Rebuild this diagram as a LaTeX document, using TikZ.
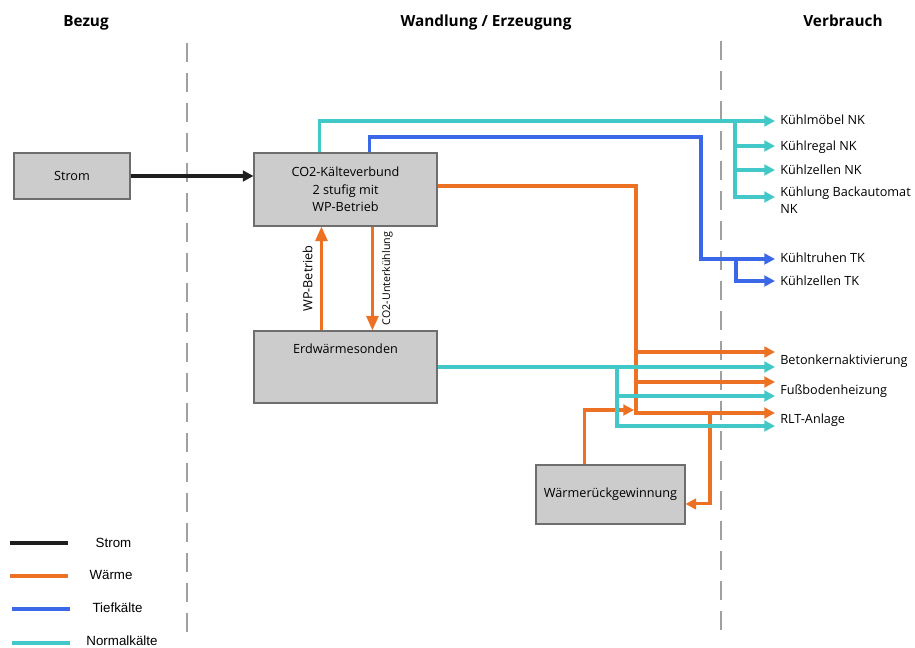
\documentclass[tikz,border=0pt]{standalone}
\usepackage{fontspec}
\setmainfont{Open Sans}
\newfontfamily\legfont{Liberation Sans}
\usetikzlibrary{arrows.meta,calc}
\definecolor{worange}{RGB}{237,113,35}
\definecolor{wblue}{RGB}{59,104,232}
\definecolor{wcyan}{RGB}{66,200,200}
\definecolor{wblack}{RGB}{30,30,30}
\definecolor{boxfill}{RGB}{204,204,204}
\definecolor{boxline}{RGB}{110,110,110}
\definecolor{dashgray}{RGB}{160,160,160}
\tikzset{
  flow/.style={line width=2.3pt},
  strom/.style={flow, draw=wblack},
  waerme/.style={flow, draw=worange},
  tief/.style={flow, draw=wblue},
  normal/.style={flow, draw=wcyan},
  arr/.style={-{Triangle[length=8pt,width=8pt]}},
  bigarr/.style={-{Triangle[length=11pt,width=9pt]}},
  box/.style={draw=boxline, fill=boxfill, line width=0.8pt, inner sep=0pt, align=center},
  lbl/.style={anchor=base west, inner sep=0pt},
  head/.style={anchor=base, inner sep=0pt, font=\bfseries\fontsize{11.5}{13}\selectfont},
  sep/.style={draw=dashgray, line width=2.2pt, dash pattern=on 14pt off 8.5pt},
  leg/.style={inner sep=0pt, font=\legfont\fontsize{10}{12}\selectfont},
  legline/.style={line width=2.4pt},
  rot/.style={rotate=90}
}
\begin{document}
\begin{tikzpicture}[x=0.75pt,y=-0.75pt, font=\fontsize{9.5}{13}\selectfont]
\fill[white] (0,0) rectangle (915,648);
\useasboundingbox (0,0) rectangle (915,648);

% headers
\node[head] (hBezug) at (86,27) {Bezug};
\node[head] (hWand) at (486,27) {Wandlung / Erzeugung};
\node[head] (hVerb) at (843,27) {Verbrauch};

% separators
\coordinate (s1a) at (187,43); \coordinate (s1b) at (187,640);
\coordinate (s2a) at (721,41); \coordinate (s2b) at (721,640);
\draw[sep] (s1a) -- (s1b);
\draw[sep] (s2a) -- (s2b);

% boxes
\node[box, minimum width=87pt, minimum height=34.5pt] (strom) at (72,176) {Strom};
\node[box, minimum width=137.25pt, minimum height=54.75pt] (co2) at (345.5,189.5) {CO2-Kälteverbund\\2 stufig mit\\WP-Betrieb};
\node[box, minimum width=137.25pt, minimum height=54pt,
      label={[anchor=center, yshift=-13.5pt, inner sep=0pt]north:Erdwärmesonden}] (erd) at (345.5,367) {};
\node[box, minimum width=111.75pt, minimum height=44.25pt] (wrg) at (610.5,494.5) {Wärmerückgewinnung};

% consumer labels
\node[lbl] (kmNK) at (780,125) {Kühlmöbel NK};
\node[lbl] (krNK) at (780,151) {Kühlregal NK};
\node[lbl] (kzNK) at (780,175) {Kühlzellen NK};
\node[anchor=west, inner sep=0pt, align=left] (kbNK) at (780,200) {Kühlung Backautomat\\NK};
\node[lbl] (ktTK) at (780,263) {Kühltruhen TK};
\node[lbl] (kzTK) at (780,286) {Kühlzellen TK};
\node[lbl] (beton) at (780,365) {Betonkernaktivierung};
\node[lbl] (fuss) at (780,395) {Fußbodenheizung};
\node[lbl] (rlt) at (780,424) {RLT-Anlage};

% arrow tips
\coordinate (tNK1) at (775,121);
\coordinate (tNK2) at (775,146);
\coordinate (tNK3) at (775,170);
\coordinate (tNK4) at (775,197);
\coordinate (tTK1) at (775,259);
\coordinate (tTK2) at (775,281);
\coordinate (tW1) at (775,352);
\coordinate (tW2) at (775,382);
\coordinate (tW3) at (775,413);
\coordinate (tN1) at (775,367);
\coordinate (tN2) at (775,396);
\coordinate (tN3) at (775,426);

% bends / taps
\coordinate (nkA) at (735,121);
\coordinate (tkB) at (701,137);
\coordinate (tkA) at (736,259);
\coordinate (wB) at (636,413);
\coordinate (wA1) at (636,352);
\coordinate (wA2) at (636,382);
\coordinate (wC) at (710,413);
\coordinate (wIn) at (634,410);
\coordinate (nA) at (617,367);

% Strom
\draw[strom,arr] (strom.east) -- (strom.east -| co2.west);

% Waerme
\draw[waerme,arr] ([yshift=2.6pt]co2.east) -| (wB) -- (tW3);
\draw[waerme,arr] (wA1) -- (tW1);
\draw[waerme,arr] (wA2) -- (tW2);
\draw[waerme,arr] (wC) |- ([yshift=-7.1pt]wrg.east);
\draw[waerme,arr] ([xshift=36.75pt]wrg.north west) |- (wIn);
\draw[waerme,bigarr] ([xshift=51pt]erd.north west) -- node[rot, midway, anchor=south, inner sep=5.5pt, font=\fontsize{9.5}{11}\selectfont] {WP-Betrieb} ([xshift=51pt]co2.south west);
\draw[waerme,bigarr] ([xshift=89.25pt]co2.south west) -- node[rot, midway, anchor=north, inner sep=6pt, font=\fontsize{8}{10}\selectfont] {CO2-Unterkühlung} ([xshift=89.25pt]erd.north west);

% Tiefkaelte
\draw[tief,arr] ([xshift=87pt]co2.north west) |- (tkB) |- (tTK1);
\draw[tief,arr] (tkA) |- (tTK2);

% Normalkaelte
\draw[normal,arr] ([xshift=49.5pt]co2.north west) |- (tNK1);
\draw[normal,arr] (nkA) |- (tNK2);
\draw[normal,arr] (nkA) |- (tNK3);
\draw[normal,arr] (nkA) |- (tNK4);
\draw[normal,arr] (erd.east) -- (erd.east -| tN1);
\draw[normal,arr] (nA) |- (tN2);
\draw[normal,arr] (nA) |- (tN3);

% legend
\node[leg] (lStrom) at (113.5,543) {Strom};
\node[leg] (lWaerme) at (111,575) {Wärme};
\node[leg] (lTief) at (117.5,608) {Tiefkälte};
\node[leg] (lNorm) at (122,641) {Normalkälte};
\coordinate (la1) at (10,543); \coordinate (lb1) at (68,543);
\coordinate (la2) at (10,576); \coordinate (lb2) at (68,576);
\coordinate (la3) at (12,609); \coordinate (lb3) at (70,609);
\coordinate (la4) at (12,643); \coordinate (lb4) at (70,643);
\draw[legline, draw=wblack] (la1) -- (lb1);
\draw[legline, draw=worange] (la2) -- (lb2);
\draw[legline, draw=wblue] (la3) -- (lb3);
\draw[legline, draw=wcyan] (la4) -- (lb4);
\end{tikzpicture}
\end{document}
